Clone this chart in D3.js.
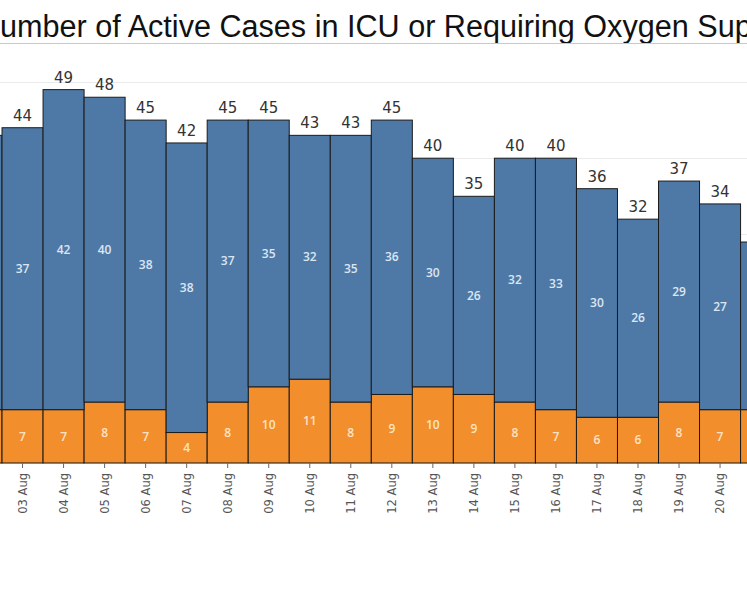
<!DOCTYPE html>
<html>
<head>
<meta charset="utf-8">
<script src="https://cdn.jsdelivr.net/npm/d3@7"></script>
<style>
  body { margin: 0; background: #fff; overflow: hidden; }
  svg { display: block; }
</style>
</head>
<body>
<script>
var width = 747
var height = 598

// data (02 Aug and 21 Aug are cut by the edges)
var days = ["02 Aug", "03 Aug", "04 Aug", "05 Aug", "06 Aug", "07 Aug", "08 Aug", "09 Aug", "10 Aug", "11 Aug",
            "12 Aug", "13 Aug", "14 Aug", "15 Aug", "16 Aug", "17 Aug", "18 Aug", "19 Aug", "20 Aug", "21 Aug"]
var oxygen = [36, 37, 42, 40, 38, 38, 37, 35, 32, 35, 36, 30, 26, 32, 33, 30, 26, 29, 27, 22]
var icu = [7, 7, 7, 8, 7, 4, 8, 10, 11, 8, 9, 10, 9, 8, 7, 6, 6, 8, 7, 7]
var gridTicks = [0, 10, 20, 30, 40, 50]

var rows = days.map(function(d, i) { return {day: d, icu: icu[i], oxygen: oxygen[i], total: icu[i] + oxygen[i]}; })
var stack = d3.stack().keys(["icu", "oxygen"])(rows)

var x = d3.scaleBand()
    .domain(days)
    .range([-39, -39 + days.length * 41.03])
    .padding(0)

var y = d3.scaleLinear()
    .domain([0, 50])
    .range([463, 82])

var color = {icu: "#f28e2b", oxygen: "#4e79a7"}
var labelColor = {icu: "#fde3c6", oxygen: "#dce6f2"}

// only label bars whose middle is inside the picture
function inView(day) {
  var c = x(day) + x.bandwidth() / 2
  return c > 0 && c < width
}

var svg = d3.select("body").append("svg")
    .attr("width", width)
    .attr("height", height)

// title
svg.append("text")
    .attr("x", -22)
    .attr("y", 37)
    .attr("font-family", "Liberation Sans, Arial, sans-serif")
    .attr("font-size", 30.6)
    .attr("fill", "#111")
    .text("Number of Active Cases in ICU or Requiring Oxygen Support")

svg.append("line")
    .attr("x1", 0).attr("x2", width)
    .attr("y1", 43.5).attr("y2", 43.5)
    .attr("stroke", "#c8c8c8")

// grid
svg.append("g")
    .selectAll("line")
    .data(gridTicks)
  .enter().append("line")
    .attr("x1", 0).attr("x2", width)
    .attr("y1", function(d) { return Math.round(y(d)) + 0.5; })
    .attr("y2", function(d) { return Math.round(y(d)) + 0.5; })
    .attr("stroke", "#ebebeb")

// bars
var layer = svg.selectAll(".layer")
    .data(stack)
  .enter().append("g")
    .attr("class", "layer")
    .attr("fill", function(d) { return color[d.key]; })

layer.selectAll("rect")
    .data(function(d) { return d; })
  .enter().append("rect")
    .attr("x", function(d) { return x(d.data.day); })
    .attr("y", function(d) { return y(d[1]); })
    .attr("width", x.bandwidth())
    .attr("height", function(d) { return y(d[0]) - y(d[1]); })
    .attr("stroke", "#1b1b1b")
    .attr("stroke-width", 1)

// segment labels
layer.each(function(s) {
  d3.select(this).selectAll("text")
      .data(s.filter(function(d) { return inView(d.data.day); }))
    .enter().append("text")
      .attr("x", function(d) { return x(d.data.day) + x.bandwidth() / 2; })
      .attr("y", function(d) { return (y(d[0]) + y(d[1])) / 2; })
      .attr("dy", "0.35em")
      .attr("text-anchor", "middle")
      .attr("font-family", "Open Sans, sans-serif")
      .attr("font-weight", 600)
      .attr("font-size", 12)
      .attr("fill", labelColor[s.key])
      .text(function(d) { return d.data[s.key]; })
})

// totals
svg.append("g")
    .selectAll("text")
    .data(rows.filter(function(d) { return inView(d.day); }))
  .enter().append("text")
    .attr("x", function(d) { return x(d.day) + x.bandwidth() / 2; })
    .attr("y", function(d) { return y(d.total) - 7; })
    .attr("text-anchor", "middle")
    .attr("font-family", "DejaVu Sans, Verdana, sans-serif")
    .attr("font-size", 15)
    .attr("fill", "#333")
    .text(function(d) { return d.total; })

// x axis
var axis = svg.append("g")
    .attr("transform", "translate(0," + y(0) + ")")
    .call(d3.axisBottom(x)
      .tickValues(days.filter(inView))
      .tickSize(5)
      .tickSizeOuter(0))

axis.select(".domain").remove()
axis.selectAll(".tick line").attr("stroke", "#666")
axis.selectAll(".tick text")
    .attr("transform", "rotate(-90)")
    .attr("x", -10)
    .attr("y", 0)
    .attr("dy", "0.35em")
    .attr("text-anchor", "end")
    .attr("font-family", "DejaVu Sans, Verdana, sans-serif")
    .attr("font-size", 11.5)
    .attr("fill", "#555")
</script>
</body>
</html>
